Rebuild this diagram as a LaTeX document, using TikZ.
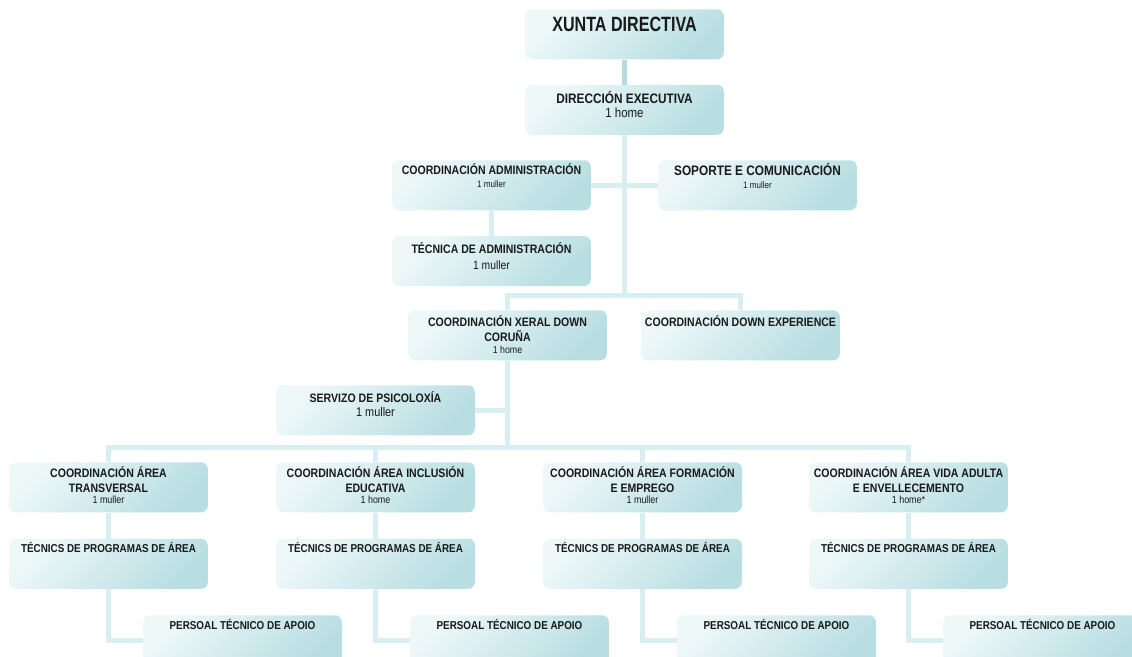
\documentclass[tikz,border=0pt]{standalone}
\usepackage{fontspec}
\setmainfont{Liberation Sans}[FakeStretch=0.86]
\newfontfamily\narrowfont{Liberation Sans}[FakeStretch=0.78]
\usetikzlibrary{positioning}
\usetikzlibrary{calc}

\definecolor{unitlight}{RGB}{238,248,249}
\definecolor{unitdark}{RGB}{184,222,226}
\definecolor{linkcol}{RGB}{216,238,240}
\definecolor{linkdark}{RGB}{180,220,224}
\definecolor{inkcol}{RGB}{25,25,25}

\newcommand{\titlefont}{\narrowfont\fontsize{15.5}{17}\selectfont\bfseries}
\newcommand{\bigfont}{\fontsize{10.3}{11.25}\selectfont\bfseries}
\newcommand{\midfont}{\fontsize{9.2}{11.25}\selectfont\bfseries}
\newcommand{\lowfont}{\fontsize{8.6}{11}\selectfont\bfseries}
\newcommand{\staff}[2]{\par\fontsize{#1}{#2}\selectfont\mdseries}
\newcommand{\unitbody}[2][3pt]{\parbox[c][37.5pt][t]{149pt}{\centering\vspace*{#1}#2\par}}

\begin{document}
\begin{tikzpicture}[x=0.75pt, y=-0.75pt,
    unit/.style={shade, top color=unitlight, bottom color=unitdark, shading angle=45,
        rounded corners=5pt, inner sep=0pt, anchor=north, text=inkcol},
    link/.style={draw=linkcol, line width=3.75pt}]
    \useasboundingbox (0,0) rectangle (1132,657);

    % direccion
    \node[unit] (xunta) at (624.5,9) {\unitbody[6pt]{\titlefont XUNTA DIRECTIVA}};
    \node[unit, below=18.75pt of xunta] (dir) {\unitbody[5pt]{\bigfont DIRECCIÓN EXECUTIVA\staff{10}{10.25}1 home}};

    \node[unit] (coordadm) at (491.5,160) {\unitbody[2.3pt]{\midfont COORDINACIÓN ADMINISTRACIÓN\staff{7}{9.75}1 muller}};
    \node[unit] (soporte) at (757.5,160) {\unitbody[2.3pt]{\bigfont SOPORTE E COMUNICACIÓN\staff{7}{9.75}1 muller}};
    \node[unit, below=19pt of coordadm] (tecadm) {\unitbody[4.5pt]{\midfont TÉCNICA DE ADMINISTRACIÓN\staff{9}{12.5}1 muller}};

    % coordinacion xeral
    \node[unit] (xeral) at (507.5,310) {\unitbody[3.8pt]{\midfont COORDINACIÓN XERAL DOWN\\CORUÑA\staff{7.7}{9}1 home}};
    \node[unit] (downexp) at (740.5,310) {\unitbody[3.8pt]{\midfont COORDINACIÓN DOWN EXPERIENCE}};
    \node[unit] (servizo) at (375.5,385) {\unitbody[4.5pt]{\midfont SERVIZO DE PSICOLOXÍA\staff{9.5}{10.5}1 muller}};

    % areas
    \node[unit] (areaA) at (108.5,462) {\unitbody{\midfont COORDINACIÓN ÁREA\\TRANSVERSAL\staff{7.8}{8.3}1 muller}};
    \node[unit] (areaB) at (375.5,462) {\unitbody{\midfont COORDINACIÓN ÁREA INCLUSIÓN\\EDUCATIVA\staff{7.8}{8.3}1 home}};
    \node[unit] (areaC) at (642.5,462) {\unitbody{\midfont COORDINACIÓN ÁREA FORMACIÓN\\E EMPREGO\staff{7.8}{8.3}1 muller}};
    \node[unit] (areaD) at (908.5,462) {\unitbody{\midfont COORDINACIÓN ÁREA VIDA ADULTA\\E ENVELLECEMENTO\staff{7.8}{8.3}1 home*}};

    \node[unit, below=19.5pt of areaA] (tecnA) {\unitbody{\lowfont TÉCNICS DE PROGRAMAS DE ÁREA}};
    \node[unit, below=19.5pt of areaB] (tecnB) {\unitbody{\lowfont TÉCNICS DE PROGRAMAS DE ÁREA}};
    \node[unit, below=19.5pt of areaC] (tecnC) {\unitbody{\lowfont TÉCNICS DE PROGRAMAS DE ÁREA}};
    \node[unit, below=19.5pt of areaD] (tecnD) {\unitbody{\lowfont TÉCNICS DE PROGRAMAS DE ÁREA}};

    \node[unit] (persA) at ([xshift=100.5pt, yshift=-19.5pt]tecnA.south) {\unitbody{\lowfont PERSOAL TÉCNICO DE APOIO}};
    \node[unit] (persB) at ([xshift=100.5pt, yshift=-19.5pt]tecnB.south) {\unitbody{\lowfont PERSOAL TÉCNICO DE APOIO}};
    \node[unit] (persC) at ([xshift=100.5pt, yshift=-19.5pt]tecnC.south) {\unitbody{\lowfont PERSOAL TÉCNICO DE APOIO}};
    \node[unit] (persD) at ([xshift=100.5pt, yshift=-19.5pt]tecnD.south) {\unitbody{\lowfont PERSOAL TÉCNICO DE APOIO}};

    % links
    \coordinate (hubA) at (624.5,295);
    \coordinate (hubB) at (507.5,447);
    \draw[link, draw=linkdark] (xunta) -- (dir);
    \draw[link] (dir) -- (hubA);
    \draw[link] (coordadm) -- (soporte);
    \draw[link] (coordadm) -- (tecadm);
    \draw[link] (xeral.north) |- (hubA) -| (downexp.north);
    \draw[link] (xeral) -- (hubB);
    \draw[link] (servizo.east) -- (servizo.east -| hubB);
    \draw[link] (areaA.north) |- (hubB) -| (areaD.north);
    \draw[link] (areaB.north) -- (areaB.north |- hubB);
    \draw[link] (areaC.north) -- (areaC.north |- hubB);
    \foreach \c in {A,B,C,D} {
        \draw[link] (area\c) -- (tecn\c);
        \draw[link] (tecn\c.south) |- (pers\c.west);
    }
\end{tikzpicture}
\end{document}
